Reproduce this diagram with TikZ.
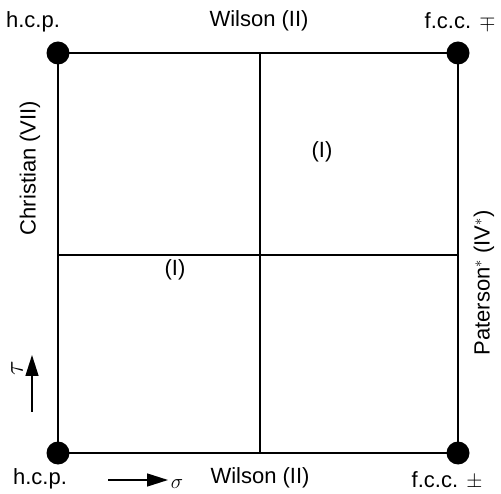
\documentclass[tikz,border=0pt]{standalone}
\usepackage{fontspec}
\setmainfont{Liberation Sans}
\usetikzlibrary{arrows.meta}
\begin{document}
\begin{tikzpicture}[x=1pt,y=-1pt,
    every node/.style={font=\fontsize{22}{26}\selectfont},
    phase/.style={circle,fill=black,inner sep=0pt,minimum size=23pt},
    edge/.style={line width=1.7pt},
    split/.style={line width=1.1pt},
    axis/.style={line width=1.5pt,-{Triangle[length=21pt,width=13pt]}}]
  \useasboundingbox (0,0) rectangle (501,494);

  % corner phases
  \node[phase] (hcpT) at (58,53) {};
  \node[phase] (fccT) at (458,53) {};
  \node[phase] (hcpB) at (58,453) {};
  \node[phase] (fccB) at (458,453) {};
  \draw[edge] (hcpT.center) -- (fccT.center) -- (fccB.center) -- (hcpB.center) -- cycle;

  % dividing lines
  \coordinate (midN) at (260,53);
  \coordinate (midS) at (260,453);
  \coordinate (midW) at (58,255);
  \coordinate (midE) at (458,255);
  \draw[split] (midN) -- (midS);
  \draw[split] (midW) -- (midE);

  % labels
  \node (hcpTlab) at (33,22) {h.c.p.};
  \node (wilsonT) at (259,21) {Wilson (II)};
  \node[anchor=east] (fccTlab) at (499,21) {f.c.c. $\mp$};
  \node (regionA) at (322,152) {(I)};
  \node (regionB) at (175,270) {(I)};
  \node[rotate=90] (christian) at (30,168) {Christian (VII)};
  \node[rotate=90] (paterson) at (484,283) {Paterson$^*$ (IV$^*$)};
  \node (hcpBlab) at (40,479) {h.c.p.};
  \node (wilsonB) at (260,478) {Wilson (II)};
  \node[anchor=east] (fccBlab) at (486,480) {f.c.c. $\pm$};

  % axes
  \coordinate (tauS) at (32,412);
  \coordinate (tauE) at (32,355);
  \draw[axis] (tauS) -- (tauE);
  \node[rotate=90,scale=1.3,inner sep=1pt] (taulab) at (17,368) {$\tau$};
  \coordinate (sigS) at (108,480);
  \coordinate (sigE) at (168,480);
  \draw[axis] (sigS) -- (sigE);
  \node (siglab) at (177,484) {$\sigma$};
\end{tikzpicture}
\end{document}
